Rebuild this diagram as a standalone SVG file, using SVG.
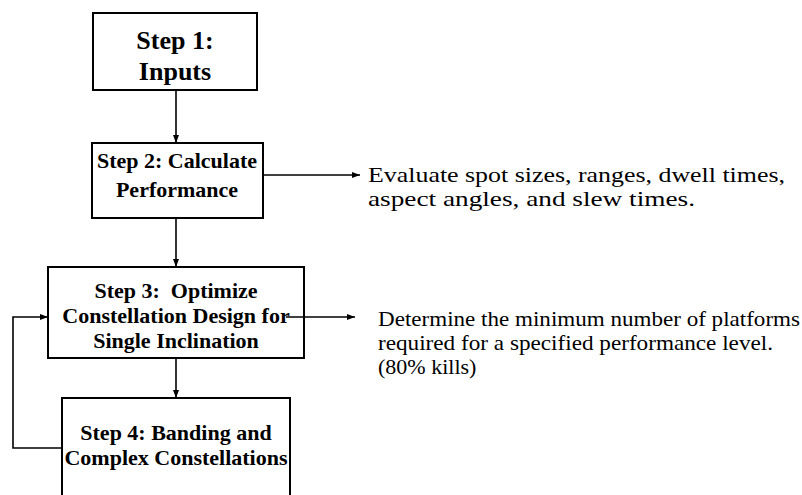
<svg xmlns="http://www.w3.org/2000/svg" width="802" height="495" viewBox="0 0 802 495">
<defs>
<style>
.box{fill:#fff;stroke:#000;stroke-width:2}
.bt{font-family:"Liberation Serif",serif;font-weight:bold;text-anchor:middle;fill:#000}
.nt{font-family:"Liberation Serif",serif;font-size:22px;fill:#000}
.ln{fill:none;stroke:#000;stroke-width:1.6}
</style>
<marker id="ah" markerUnits="userSpaceOnUse" markerWidth="10" markerHeight="8" refX="8" refY="4" orient="auto">
<path d="M0,1 L8,4 L0,7 Z" fill="#000"/>
</marker>
</defs>
<rect width="802" height="495" fill="#fff"/>
<g id="connectors">
<line class="ln" x1="176" y1="90" x2="176" y2="143" marker-end="url(#ah)"/>
<line class="ln" x1="176" y1="218" x2="176" y2="267" marker-end="url(#ah)"/>
<line class="ln" x1="176" y1="358" x2="176" y2="398" marker-end="url(#ah)"/>
<line class="ln" x1="264" y1="175" x2="360" y2="175" marker-end="url(#ah)"/>
<path class="ln" d="M62,448 H13 V317 H48" marker-end="url(#ah)"/>
</g>
<g id="step1">
<rect class="box" x="93" y="13" width="164" height="77"/>
<text class="bt" font-size="26" x="175" y="49">Step 1:</text>
<text class="bt" font-size="26" x="175" y="80">Inputs</text>
</g>
<g id="step2">
<rect class="box" x="92" y="143" width="171" height="75"/>
<text class="bt" font-size="22" x="177" y="168">Step 2: Calculate</text>
<text class="bt" font-size="22" x="177" y="197">Performance</text>
</g>
<g id="note2">
<text class="nt" x="368" y="182" textLength="417" lengthAdjust="spacingAndGlyphs">Evaluate spot sizes, ranges, dwell times,</text>
<text class="nt" x="368" y="206" textLength="327" lengthAdjust="spacingAndGlyphs">aspect angles, and slew times.</text>
</g>
<g id="step3">
<rect class="box" x="48" y="267" width="256" height="91"/>
<text class="bt" font-size="22" x="176" y="298">Step 3:&#160; Optimize</text>
<text class="bt" font-size="22" x="176" y="323">Constellation Design for</text>
<text class="bt" font-size="22" x="176" y="348">Single Inclination</text>
</g>
<g id="connector-step3-note">
<line class="ln" x1="286" y1="317" x2="355" y2="317" marker-end="url(#ah)"/>
</g>
<g id="note3">
<text class="nt" x="378" y="326" textLength="422" lengthAdjust="spacingAndGlyphs">Determine the minimum number of platforms</text>
<text class="nt" x="378" y="350" textLength="395" lengthAdjust="spacingAndGlyphs">required for a specified performance level.</text>
<text class="nt" x="378" y="374">(80% kills)</text>
</g>
<g id="step4">
<rect class="box" x="62" y="398" width="228" height="110"/>
<text class="bt" font-size="22" x="176" y="440">Step 4: Banding and</text>
<text class="bt" font-size="22" x="176" y="465">Complex Constellations</text>
</g>
</svg>
